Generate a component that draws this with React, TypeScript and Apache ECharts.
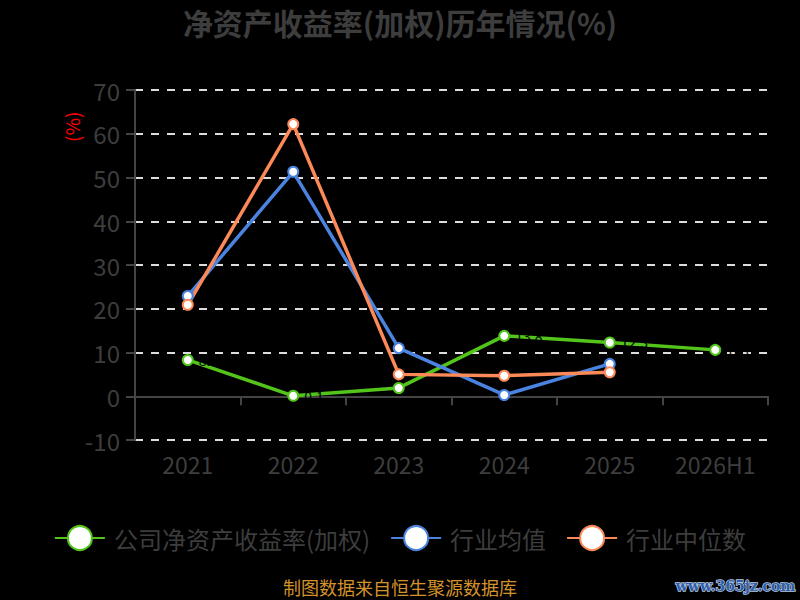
import React, { useEffect, useRef } from "react";
import * as echarts from "echarts";

const categories = ["2021", "2022", "2023", "2024", "2025", "2026H1"];
const companyRoe = [8.3, 0.1, 1.9, 13.8, 12.3, 10.6];
const industryMean = [22.9, 51.3, 11.0, 0.3, 7.4, null];
const industryMedian = [20.9, 62.2, 5.0, 4.7, 5.5, null];
const yTicks = [-10, 0, 10, 20, 30, 40, 50, 60, 70];

const FONT = "'Noto Sans CJK SC', 'Noto Sans', sans-serif";
const GRAY = "#3d3d3d";

export default function App() {
  const ref = useRef<HTMLDivElement>(null);
  useEffect(() => {
    if (!ref.current) return;
    const chart = echarts.init(ref.current, null, { renderer: "svg" });
    const mk = (name: string, data: (number | null)[], color: string, label: boolean) => ({
      name,
      type: "line",
      data,
      symbol: "emptyCircle",
      symbolSize: 10,
      showAllSymbol: true,
      lineStyle: { color, width: 3.5 },
      itemStyle: { color, borderWidth: 2 },
      label: label
        ? { show: true, position: "right", color: "#000", fontSize: 14, fontFamily: FONT }
        : { show: false },
      emphasis: { disabled: true },
    });
    chart.setOption({
      animation: false,
      backgroundColor: "#000",
      textStyle: { fontFamily: FONT },
      title: {
        text: "净资产收益率(加权)历年情况(%)",
        left: "center",
        top: 2,
        textStyle: { color: GRAY, fontSize: 30, fontWeight: "bold", fontFamily: FONT },
      },
      grid: { left: 135, right: 32, top: 90, bottom: 160 },
      legend: {
        bottom: 44,
        left: "center",
        itemWidth: 50,
        itemHeight: 30,
        itemGap: 20,
        textStyle: { color: GRAY, fontSize: 24, fontFamily: FONT, padding: [0, 0, 0, 4] },
        data: ["公司净资产收益率(加权)", "行业均值", "行业中位数"],
      },
      xAxis: {
        type: "category",
        data: categories,
        boundaryGap: true,
        axisLine: { onZero: true, lineStyle: { color: "#444", width: 2 } },
        axisTick: { show: true, length: 9, lineStyle: { color: "#444", width: 2 } },
        axisLabel: { color: GRAY, fontSize: 23, margin: 12, fontFamily: FONT },
      },
      yAxis: {
        type: "value",
        min: yTicks[0],
        max: yTicks[yTicks.length - 1],
        interval: 10,
        axisLine: { show: true, lineStyle: { color: "#444", width: 2 } },
        axisTick: { show: true, length: 9, lineStyle: { color: "#444", width: 2 } },
        axisLabel: { color: GRAY, fontSize: 24, margin: 15, fontFamily: FONT },
        splitLine: { show: true, lineStyle: { color: "#ddd", type: [8, 8], width: 2 } },
      },
      graphic: [
        {
          type: "text",
          x: 62,
          y: 142,
          rotation: Math.PI / 2,
          style: { text: "(%)", fill: "#f00", fontSize: 19, fontFamily: FONT },
        },
        {
          type: "text",
          left: "center",
          bottom: 4,
          style: { text: "制图数据来自恒生聚源数据库", fill: "#d4922a", fontSize: 18, fontFamily: FONT },
        },
        {
          type: "text",
          right: 4,
          bottom: 6,
          style: {
            text: "www.365jz.com",
            fill: "#2f5fa8",
            stroke: "#b8c8e0",
            lineWidth: 1.5,
            fontSize: 14,
            fontWeight: "bold",
            fontFamily: "'DejaVu Serif', serif",
          },
        },
      ],
      series: [
        mk("公司净资产收益率(加权)", companyRoe, "#52c41a", true),
        mk("行业均值", industryMean, "#4a83e0", false),
        mk("行业中位数", industryMedian, "#fb8a58", false),
      ],
    });
    return () => chart.dispose();
  }, []);
  return <div ref={ref} style={{ width: 800, height: 600, position: "absolute", left: 0, top: 0 }} />;
}
